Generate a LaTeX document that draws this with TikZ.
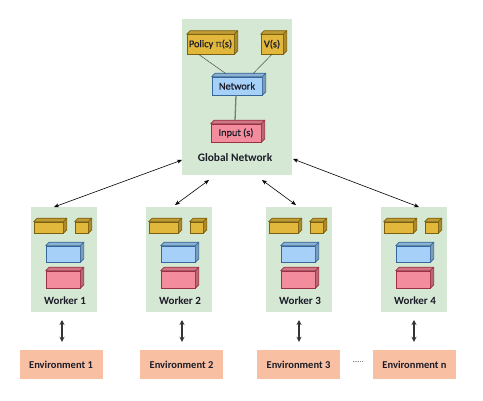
\documentclass[tikz,border=0pt]{standalone}
\usepackage{fontspec}
\setmainfont{Carlito}
\newfontfamily\medfont[FakeBold=0.8]{Carlito}
\newfontfamily\pifont{Open Sans}
\usetikzlibrary{arrows.meta}
\definecolor{bggreen}{HTML}{D5E8D4}
\definecolor{yelfill}{HTML}{E2B83C}
\definecolor{yeledge}{HTML}{7A6010}
\definecolor{bluefill}{HTML}{A6D0F7}
\definecolor{blueedge}{HTML}{35679A}
\definecolor{redfill}{HTML}{F38C9C}
\definecolor{rededge}{HTML}{9A3043}
\definecolor{envfill}{HTML}{F9BFA2}
\definecolor{txt}{HTML}{1C1C28}
\tikzset{
  cub/.style={rectangle, inner sep=0pt, line width=0.6pt, text=txt, font=\medfont\fontsize{10.3}{11}\selectfont},
  envbox/.style={fill=envfill, draw=none, inner sep=0pt, minimum width=83pt, minimum height=29pt, font=\bfseries\fontsize{10.5}{11}\selectfont, text=txt},
  lbl/.style={font=\bfseries\fontsize{11}{12}\selectfont, text=txt, inner sep=0pt},
  link/.style={draw=black, line width=0.6pt, {Stealth[length=5pt,width=4pt]}-{Stealth[length=5pt,width=4pt]}},
  vlink/.style={draw=black!80, line width=1.1pt, {Stealth[length=5pt,width=5pt]}-{Stealth[length=5pt,width=5pt]}},
  tie/.style={draw=black!70, line width=0.5pt}
}
% \boxthree{name}{x1}{y1}{x2}{y2}{fill}{edge}{text}  (front face, pixel coords)
\newcommand\boxthree[8]{%
  \node[cub, fill=#6, draw=#7, minimum width={((#4)-(#2))*1pt}, minimum height={((#5)-(#3))*1pt}] (#1) at ({((#2)+(#4))/2},{((#3)+(#5))/2}) {#8};
  \fill[#6!85!black, draw=#7, line width=0.6pt, line join=round] (#1.north west) -- ++(3.5pt,3.5pt) -- ([shift={(3.5pt,3.5pt)}]#1.north east) -- (#1.north east) -- cycle;
  \fill[#6!75!black, draw=#7, line width=0.6pt, line join=round] (#1.north east) -- ++(3.5pt,3.5pt) -- ([shift={(3.5pt,3.5pt)}]#1.south east) -- (#1.south east) -- cycle;
}
\begin{document}
\begin{tikzpicture}[x=1pt,y=-1pt]
\useasboundingbox[fill=white] (0,0) rectangle (483,400);
% global panel
\fill[bggreen] (182,19) rectangle (292,175);
\node[lbl, font=\bfseries\fontsize{11.4}{12}\selectfont] (glab) at (235,158) {Global Network};
\coordinate (gsw) at (182,175);
\coordinate (gse) at (292,175);
\boxthree{policy}{187}{34.5}{234}{54}{yelfill}{yeledge}{Policy {\pifont\fontsize{9.6}{11}\selectfont π}(s)}
\boxthree{vs}{261}{34.5}{283}{54}{yelfill}{yeledge}{V(s)}
\boxthree{net}{212}{77}{262}{95}{bluefill}{blueedge}{Network}
\boxthree{inp}{211}{124}{261}{142}{redfill}{rededge}{Input (s)}
\draw[tie] ([xshift=-12pt]policy.south) -- ([xshift=-11pt,yshift=3pt]net.north);
\draw[tie] (vs.south) -- ([xshift=16pt,yshift=3pt]net.north);
\draw[draw=black!45!bggreen, line width=1.3pt] ([xshift=-1pt]net.south) -- ([xshift=-1pt,yshift=3pt]inp.north);
% workers
\foreach \i/\L in {1/31,2/146,3/266,4/381}{
  \fill[bggreen] (\L,207) rectangle ({\L+66},312);
  \coordinate (w\i) at ({\L+33},207);
  \coordinate (wb\i) at ({\L+33},312);
  \boxthree{wy\i}{\L+3}{222}{\L+32}{233}{yelfill}{yeledge}{}
  \boxthree{ws\i}{\L+44}{222}{\L+57}{233}{yelfill}{yeledge}{}
  \boxthree{wn\i}{\L+15}{246}{\L+49}{262}{bluefill}{blueedge}{}
  \boxthree{wr\i}{\L+15}{271}{\L+49}{288}{redfill}{rededge}{}
  \node[lbl] (wl\i) at ({\L+34},301) {Worker \i};
}
% environments
\node[envbox] (e1) at (61,364.5) {Environment 1};
\node[envbox] (e2) at (181.5,364.5) {Environment 2};
\node[envbox] (e3) at (298.5,364.5) {Environment 3};
\node[envbox] (e4) at (414.5,364.5) {Environment n};
\node[font=\fontsize{7}{7}\selectfont, text=txt, inner sep=0pt] (dots) at (358,362) {......};
% links global <-> workers
\draw[link] ([yshift=15pt]gsw) -- ([xshift=-10pt]w1);
\draw[link] ([xshift=27pt,yshift=-5pt]gsw) -- ([xshift=-4pt,yshift=2pt]w2);
\draw[link] ([xshift=-30pt,yshift=-5pt]gse) -- ([xshift=-3pt,yshift=2pt]w3);
\draw[link] ([xshift=1pt,yshift=16pt]gse) -- ([xshift=5pt]w4);
% links workers <-> environments
\draw[vlink] ([xshift=-2pt,yshift=-8pt]wb1) -- ([xshift=1pt,yshift=8pt]e1.north);
\draw[vlink] ([xshift=3pt,yshift=-8pt]wb2) -- ([xshift=0.5pt,yshift=8pt]e2.north);
\draw[vlink] ([xshift=0pt,yshift=-8pt]wb3) -- ([xshift=0.5pt,yshift=8pt]e3.north);
\draw[vlink] ([xshift=0pt,yshift=-8pt]wb4) -- ([xshift=-0.5pt,yshift=8pt]e4.north);
\end{tikzpicture}
\end{document}
